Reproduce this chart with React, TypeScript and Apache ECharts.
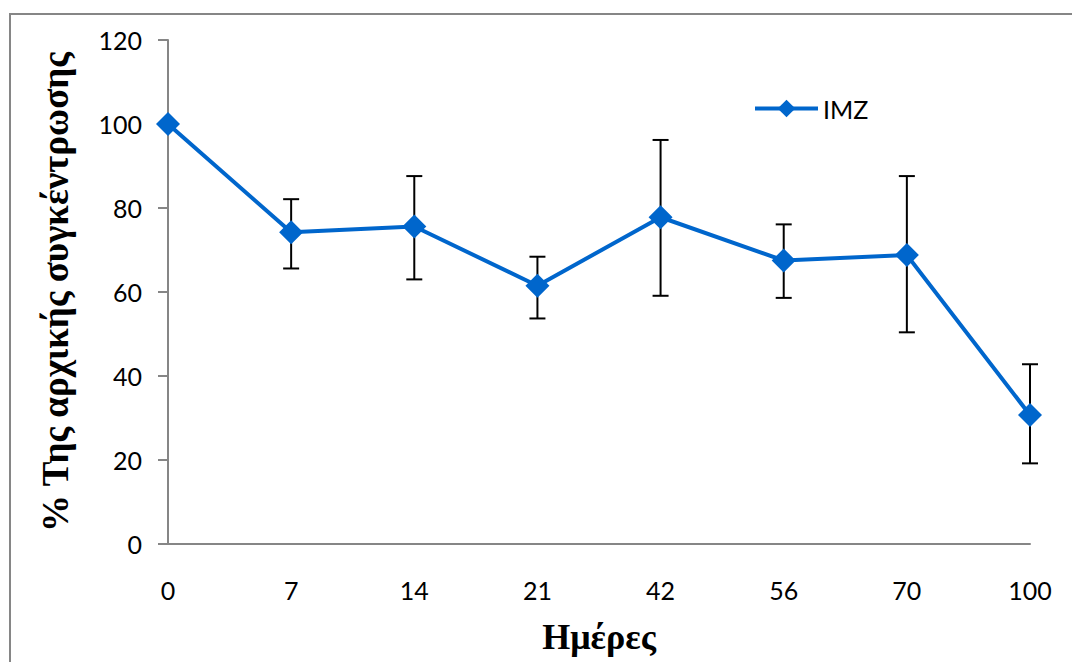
import React, { useEffect, useRef } from "react";
import * as echarts from "echarts";

const categories = ["0", "7", "14", "21", "42", "56", "70", "100"];
const meanValues = [100, 74.2, 75.6, 61.5, 77.8, 67.5, 68.8, 30.7];
const upperValues = [100, 82.1, 87.6, 68.4, 96.2, 76.1, 87.6, 42.8];
const lowerValues = [100, 65.6, 63.0, 53.7, 59.1, 58.6, 50.4, 19.2];
const yTicks = { min: 0, max: 120, interval: 20 };
const seriesName = "IMZ";
const xTitle = "Ημέρες";
const yTitle = "% Της αρχικής συγκέντρωσης";

export default function App() {
  const ref = useRef<HTMLDivElement>(null);
  useEffect(() => {
    if (!ref.current) return;
    const chart = echarts.init(ref.current, null, { renderer: "svg" });
    const errData = categories.map((c, i) => [i, lowerValues[i], upperValues[i]]);
    chart.setOption({
      animation: false,
      backgroundColor: "#ffffff",
      graphic: [
        {
          type: "rect",
          shape: { x: 10, y: 14, width: 1100, height: 700 },
          style: { fill: "none", stroke: "#868686", lineWidth: 2 },
          silent: true,
          z: -1,
        },
      ],
      grid: { left: 168, top: 40, right: 42, bottom: 118, containLabel: false },
      legend: {
        left: 748,
        top: 91,
        itemWidth: 63,
        itemHeight: 22,
        itemGap: 8,
        data: [seriesName],
        itemStyle: { color: "#0066CC" },
        lineStyle: { width: 4, color: "#0066CC" },
        textStyle: { fontFamily: "Lato", fontSize: 25, color: "#000" },
      },
      xAxis: {
        type: "category",
        data: categories,
        boundaryGap: false,
        axisLine: { lineStyle: { color: "#868686", width: 2 } },
        axisTick: { show: false },
        axisLabel: { fontFamily: "Lato", fontSize: 25, color: "#000", margin: 33 },
        name: xTitle,
        nameLocation: "middle",
        nameGap: 75,
        nameTextStyle: {
          fontFamily: "Liberation Serif",
          fontWeight: "bold",
          fontSize: 36,
          color: "#000",
        },
        splitLine: { show: false },
      },
      yAxis: {
        type: "value",
        min: yTicks.min,
        max: yTicks.max,
        interval: yTicks.interval,
        axisLine: { show: true, lineStyle: { color: "#868686", width: 2 } },
        axisTick: { show: true, length: 10, lineStyle: { color: "#868686", width: 2 } },
        axisLabel: { fontFamily: "Lato", fontSize: 25, color: "#000", margin: 26 },
        splitLine: { show: false },
        name: yTitle,
        nameLocation: "middle",
        nameGap: 94,
        nameTextStyle: {
          fontFamily: "Liberation Serif",
          fontWeight: "bold",
          fontSize: 37,
          color: "#000",
        },
      },
      series: [
        {
          type: "custom",
          name: "err",
          z: 1,
          silent: true,
          data: errData,
          renderItem: (params: any, api: any) => {
            const x = api.coord([api.value(0), api.value(1)])[0];
            const yl = api.coord([api.value(0), api.value(1)])[1];
            const yh = api.coord([api.value(0), api.value(2)])[1];
            const hw = 8;
            const st = { stroke: "#000", lineWidth: 2 };
            return {
              type: "group",
              children: [
                { type: "line", shape: { x1: x, y1: yl, x2: x, y2: yh }, style: st },
                { type: "line", shape: { x1: x - hw, y1: yl, x2: x + hw, y2: yl }, style: st },
                { type: "line", shape: { x1: x - hw, y1: yh, x2: x + hw, y2: yh }, style: st },
              ],
            };
          },
        },
        {
          type: "line",
          name: seriesName,
          z: 5,
          data: meanValues,
          symbol: "diamond",
          symbolSize: [24, 24],
          itemStyle: { color: "#0066CC" },
          lineStyle: { color: "#0066CC", width: 4 },
        },
      ],
    });
    return () => chart.dispose();
  }, []);
  return (
    <div
      ref={ref}
      style={{ position: "fixed", left: 0, top: 0, width: 1072, height: 662 }}
    />
  );
}
